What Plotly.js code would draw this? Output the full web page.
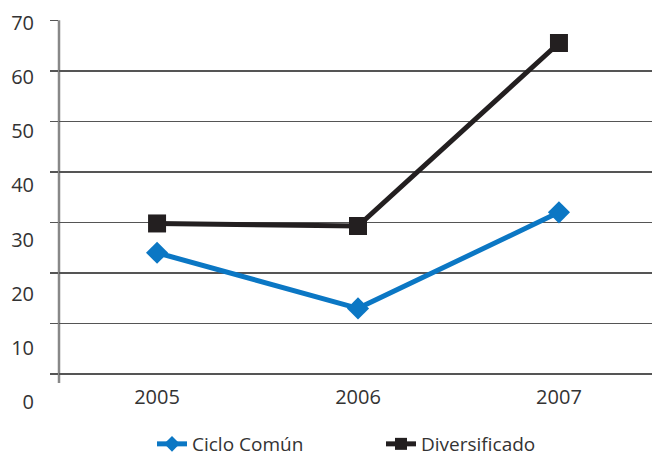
<!DOCTYPE html>
<html>
<head>
<meta charset="utf-8">
<script src="https://cdn.plot.ly/plotly-3.0.1.min.js"></script>
<style>html,body{margin:0;padding:0;background:#fff;}#chart{width:652px;height:456px;}</style>
</head>
<body>
<div id="chart"></div>
<script>
const years = ['2005', '2006', '2007'];
const cicloComun = [24, 13, 32];
const diversificado = [29.8, 29.3, 65.5];
const yTickVals = [0, 10, 20, 30, 40, 50, 60, 70];
const yTickText = ['0', '10', '20', '30', '40', '50', '60', '70'];

const blue = '#0b77c4';
const black = '#231f20';
const font = '"Open Sans", "Noto Sans", sans-serif';

const traces = [
  {x: years, y: cicloComun, name: 'Ciclo Común', type: 'scatter', mode: 'lines+markers',
   line: {color: blue, width: 5}, marker: {symbol: 'diamond', size: 17, color: blue},
   xaxis: 'x', yaxis: 'y', legend: 'legend'},
  {x: years, y: diversificado, name: 'Diversificado', type: 'scatter', mode: 'lines+markers',
   line: {color: black, width: 5}, marker: {symbol: 'square', size: 18, color: black},
   xaxis: 'x', yaxis: 'y', legend: 'legend2'},
  {x: [], y: [], type: 'scatter', mode: 'markers', xaxis: 'x', yaxis: 'y2',
   showlegend: false, hoverinfo: 'skip'}
];

const legendCommon = {orientation: 'h', xref: 'container', yref: 'container', xanchor: 'left',
  y: 1 - 444/456, yanchor: 'middle', itemsizing: 'constant', bgcolor: 'rgba(0,0,0,0)',
  font: {family: font, size: 19, color: '#333'}};

const layout = {
  width: 652, height: 456,
  margin: {l: 59, r: 0, t: 20, b: 44},
  paper_bgcolor: '#fff', plot_bgcolor: 'rgba(0,0,0,0)',
  font: {family: font, size: 19, color: '#333'},
  showlegend: true,
  legend: Object.assign({}, legendCommon, {x: 152/652}),
  legend2: Object.assign({}, legendCommon, {x: 381/652}),
  xaxis: {type: 'category', range: [-0.488, 2.463], showgrid: false, zeroline: false, showline: false,
          ticks: '', anchor: 'free', position: (412 - 383) / 392, tickfont: {size: 20, color: '#333'}},
  yaxis: {range: [-7.5, 70.05], tick0: 0, dtick: 10, showticklabels: false, ticks: 'outside', ticklen: 8,
          tickwidth: 1.5, tickcolor: '#555', showgrid: true, gridcolor: '#555', gridwidth: 1.5,
          zeroline: true, zerolinecolor: '#555', zerolinewidth: 1.5, showline: false},
  yaxis2: {overlaying: 'y', anchor: 'x', side: 'left', range: [-1.85, 70.554], tickmode: 'array',
           tickvals: yTickVals, ticktext: yTickText, showgrid: false, zeroline: false, showline: false,
           ticks: '', ticklabelstandoff: 24, tickfont: {size: 20, color: '#333'}},
  shapes: [
    {type: 'line', xref: 'paper', yref: 'y', x0: 0, x1: 0, y0: -1.78, y1: 70,
     line: {color: '#888', width: 2.5}, layer: 'below'}
  ]
};

Plotly.newPlot('chart', traces, layout, {displayModeBar: false, staticPlot: true});
</script>
</body>
</html>
